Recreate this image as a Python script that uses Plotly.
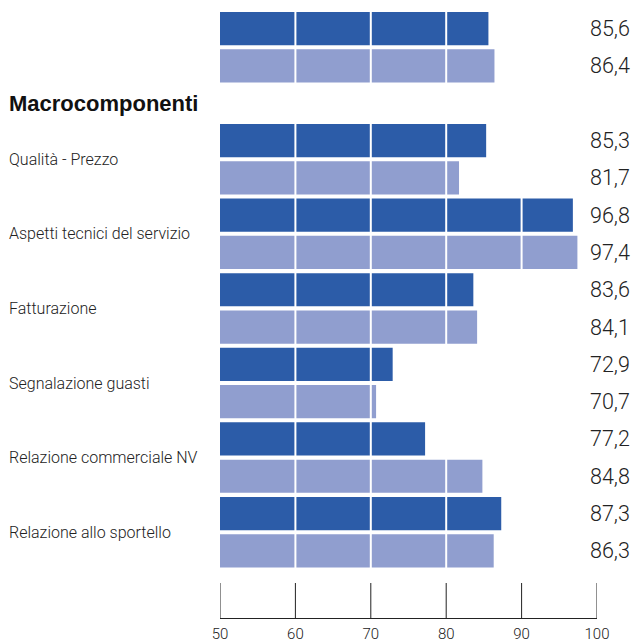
"""Soddisfazione clienti: confronto tra due rilevazioni per macrocomponente."""

import plotly.graph_objects as go

# Data
groups = [
    "",
    "Qualità - Prezzo",
    "Aspetti tecnici del servizio",
    "Fatturazione",
    "Segnalazione guasti",
    "Relazione commerciale NV",
    "Relazione allo sportello",
]
values_dark = [85.6, 85.3, 96.8, 83.6, 72.9, 77.2, 87.3]
values_light = [86.4, 81.7, 97.4, 84.1, 70.7, 84.8, 86.3]
header = "Macrocomponenti"
tick_values = [50, 60, 70, 80, 90, 100]

DARK = "#2c5ca8"
LIGHT = "#909ecf"
TEXT = "#222222"
FONT = "Roboto"

# Slot layout: the first pair, then a header row, then one pair per group
slots_dark = [0] + [2 * i + 1 for i in range(1, len(groups))]
slots_light = [s + 1 for s in slots_dark]
header_slot = 2
last_slot = slots_light[-1]

fig = go.Figure()
for vals, slots, color in [(values_dark, slots_dark, DARK), (values_light, slots_light, LIGHT)]:
    fig.add_trace(
        go.Bar(
            x=vals,
            y=slots,
            orientation="h",
            width=0.89,
            marker=dict(color=color, line_width=0),
            hoverinfo="x",
            showlegend=False,
        )
    )

annotations = []
# value labels on the right
for vals, slots in [(values_dark, slots_dark), (values_light, slots_light)]:
    for v, s in zip(vals, slots):
        annotations.append(
            dict(
                x=1, xref="paper", xanchor="right", xshift=35,
                y=s, yref="y", yanchor="middle",
                text=f"{v:.1f}".replace(".", ","),
                showarrow=False,
                font=dict(family=FONT, size=21.5, weight=300, color=TEXT),
            )
        )
# group labels on the left, between the two bars of each pair
for g, s in zip(groups, slots_dark):
    if not g:
        continue
    annotations.append(
        dict(
            x=0, xref="paper", xanchor="left", xshift=-213,
            y=s + 0.5, yref="y", yanchor="middle",
            text=g,
            showarrow=False,
            font=dict(family=FONT, size=16, weight=300, color=TEXT),
        )
    )
annotations.append(
    dict(
        x=0, xref="paper", xanchor="left", xshift=-213,
        y=header_slot, yref="y", yanchor="middle",
        text=f"<b>{header}</b>",
        showarrow=False,
        font=dict(family="Liberation Sans", size=22, color="#111111"),
    )
)

# white gridlines drawn on top of the bars
shapes = [
    dict(
        type="line", xref="x", yref="y",
        x0=t, x1=t, y0=-0.5, y1=last_slot + 0.5,
        line=dict(color="white", width=2),
        layer="above",
    )
    for t in tick_values[1:-1]
]
# tall tick marks rising from the axis line
shapes += [
    dict(
        type="line", xref="x", yref="paper",
        x0=t, x1=t, y0=0, y1=35 / 608,
        line=dict(color=TEXT, width=1),
        layer="above",
    )
    for t in tick_values
]

fig.update_layout(
    width=633,
    height=644,
    margin=dict(l=220, r=36, t=10, b=26),
    paper_bgcolor="white",
    plot_bgcolor="white",
    barmode="overlay",
    annotations=annotations,
    shapes=shapes,
    xaxis=dict(
        range=[50, 100],
        tickvals=tick_values,
        ticktext=[str(t) for t in tick_values],
        showgrid=False,
        zeroline=False,
        showline=True,
        linecolor=TEXT,
        linewidth=1,
        ticks="",
        ticklabelstandoff=2,
        automargin=False,
        tickfont=dict(family=FONT, size=15, weight=300, color=TEXT),
        fixedrange=True,
    ),
    yaxis=dict(
        range=[15.8, -0.5],
        showgrid=False,
        zeroline=False,
        showticklabels=False,
        showline=False,
        automargin=False,
        fixedrange=True,
    ),
)

fig.write_html(
    "out.html",
    config={"displayModeBar": False},
    post_script="document.body.style.margin = '0';",
)
